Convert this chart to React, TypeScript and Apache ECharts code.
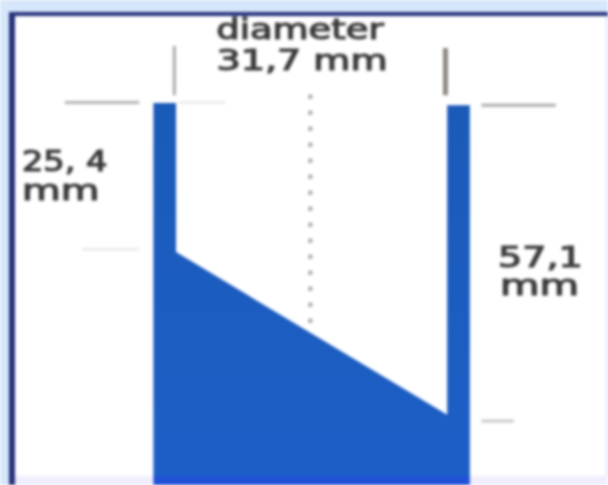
import React, { useEffect, useRef } from "react";
import * as echarts from "echarts";

// Section through the cut tube, in millimetres (x across, y = depth below the rim)
const wallThickness = 2.65;
const tubeDiameter = 31.7;
const rimOffsetRight = 0.4;
const leftDepth = 27.1;
const rightDepth = 56.7;
const bottomDepth = 69.5;

const tubeOutlineX = [-wallThickness, 0, 0, tubeDiameter, tubeDiameter, tubeDiameter + wallThickness, tubeDiameter + wallThickness, -wallThickness];
const tubeOutlineY = [0, 0, leftDepth, rightDepth, rimOffsetRight, rimOffsetRight, bottomDepth, bottomDepth];

const centerLineX = [15.7, 15.7];
const centerLineY = [-1.5, 41];

const guideLeftTopX = [-13, -4.3];
const guideLeftTopY = [-0.1, -0.1];
const guideLeftTopBX = [0.4, 5.8];
const guideRightTopX = [35.7, 44.4];
const guideRightTopY = [0.4, 0.4];
const guideLeftMidX = [-11, -4.3];
const guideLeftMidY = [26.6, 26.6];
const guideRightLowX = [35.7, 39.5];
const guideRightLowY = [57.8, 57.8];
const tickLeftX = [-0.2, -0.2];
const tickLeftY = [-10.4, -1.4];
const tickRightX = [31.5, 31.5];
const tickRightY = [-10, -1.4];

const diameterLines = ["diameter", "31,7 mm"];
const leftLabelLines = ["25, 4", "mm"];
const rightLabelLines = ["57,1", "mm"];

const guide = (xs: number[], ys: number[], color: string, width: number, type: any = "solid") => ({
  type: "line",
  data: xs.map((x, i) => [x, ys[i]]),
  symbol: "none",
  silent: true,
  z: 3,
  lineStyle: { color, width, type },
});

const label = (x: number, y: number, text: string, scaleX: number, align = "left") => ({
  type: "text",
  x,
  y,
  scaleX,
  z: 10,
  style: {
    text,
    font: '28px "DejaVu Sans"',
    fill: "#3a3a3a",
    stroke: "#3a3a3a",
    lineWidth: 1.2,
    textAlign: align,
    textVerticalAlign: "middle",
  },
});

export default function App() {
  const ref = useRef<HTMLDivElement>(null);
  useEffect(() => {
    const chart = echarts.init(ref.current!, undefined, { renderer: "svg" });
    chart.setOption({
      animation: false,
      backgroundColor: "#d6e6fb",
      grid: { left: 0, top: 0, width: 608, height: 485 },
      xAxis: { type: "value", min: -20.58, max: 50.5, show: false },
      yAxis: { type: "value", min: -18.73, max: 69.45, inverse: true, show: false },
      graphic: [
        { type: "rect", z: 0, shape: { x: 12, y: 14, width: 594, height: 462 }, style: { fill: "#ffffff" } },
        { type: "rect", z: 0, shape: { x: 12, y: 476, width: 596, height: 9 }, style: { fill: "#f0eefc" } },
        { type: "rect", z: 1, shape: { x: 10, y: 12, width: 598, height: 4 }, style: { fill: "#26307a" } },
        { type: "rect", z: 1, shape: { x: 9, y: 12, width: 6, height: 473 }, style: { fill: "#26307a" } },
        label(300, 30, diameterLines[0], 1.32, "center"),
        label(302, 60, diameterLines[1], 1.36, "center"),
        label(22, 161, leftLabelLines[0], 1.2),
        label(22, 190, leftLabelLines[1], 1.42),
        label(498, 257, rightLabelLines[0], 1.36),
        label(500, 285, rightLabelLines[1], 1.45),
      ],
      series: [
        {
          type: "custom",
          silent: true,
          clip: true,
          z: 2,
          data: tubeOutlineX.map((x, i) => [x, tubeOutlineY[i]]),
          encode: { x: 0, y: 1 },
          renderItem: (params: any, api: any) => {
            if (params.dataIndex !== 0) return null;
            const points = tubeOutlineX.map((x, i) => api.coord([x, tubeOutlineY[i]]));
            return {
              type: "polygon",
              shape: { points },
              style: {
                fill: new echarts.graphic.LinearGradient(0, 0, 0, 1, [
                  { offset: 0, color: "#1a5ab8" },
                  { offset: 0.975, color: "#1c5ec6" },
                  { offset: 0.98, color: "#2050d8" },
                  { offset: 1, color: "#2050d8" },
                ]),
              },
            };
          },
        },
        guide(centerLineX, centerLineY, "#a4a4a4", 4, [4, 12]),
        guide(guideLeftTopX, guideLeftTopY, "#b4b4b4", 3),
        guide(guideLeftTopBX, guideLeftTopY, "#ececec", 3),
        guide(guideRightTopX, guideRightTopY, "#ababab", 3),
        guide(guideLeftMidX, guideLeftMidY, "#ececec", 3),
        guide(guideRightLowX, guideRightLowY, "#c8c8c8", 3),
        guide(tickLeftX, tickLeftY, "#ababab", 3),
        guide(tickRightX, tickRightY, "#8c8880", 5),
      ],
    });
    return () => chart.dispose();
  }, []);
  return (
    <div
      ref={ref}
      style={{ position: "fixed", left: 0, top: 0, width: 608, height: 485, filter: "blur(1.6px)" }}
    />
  );
}
